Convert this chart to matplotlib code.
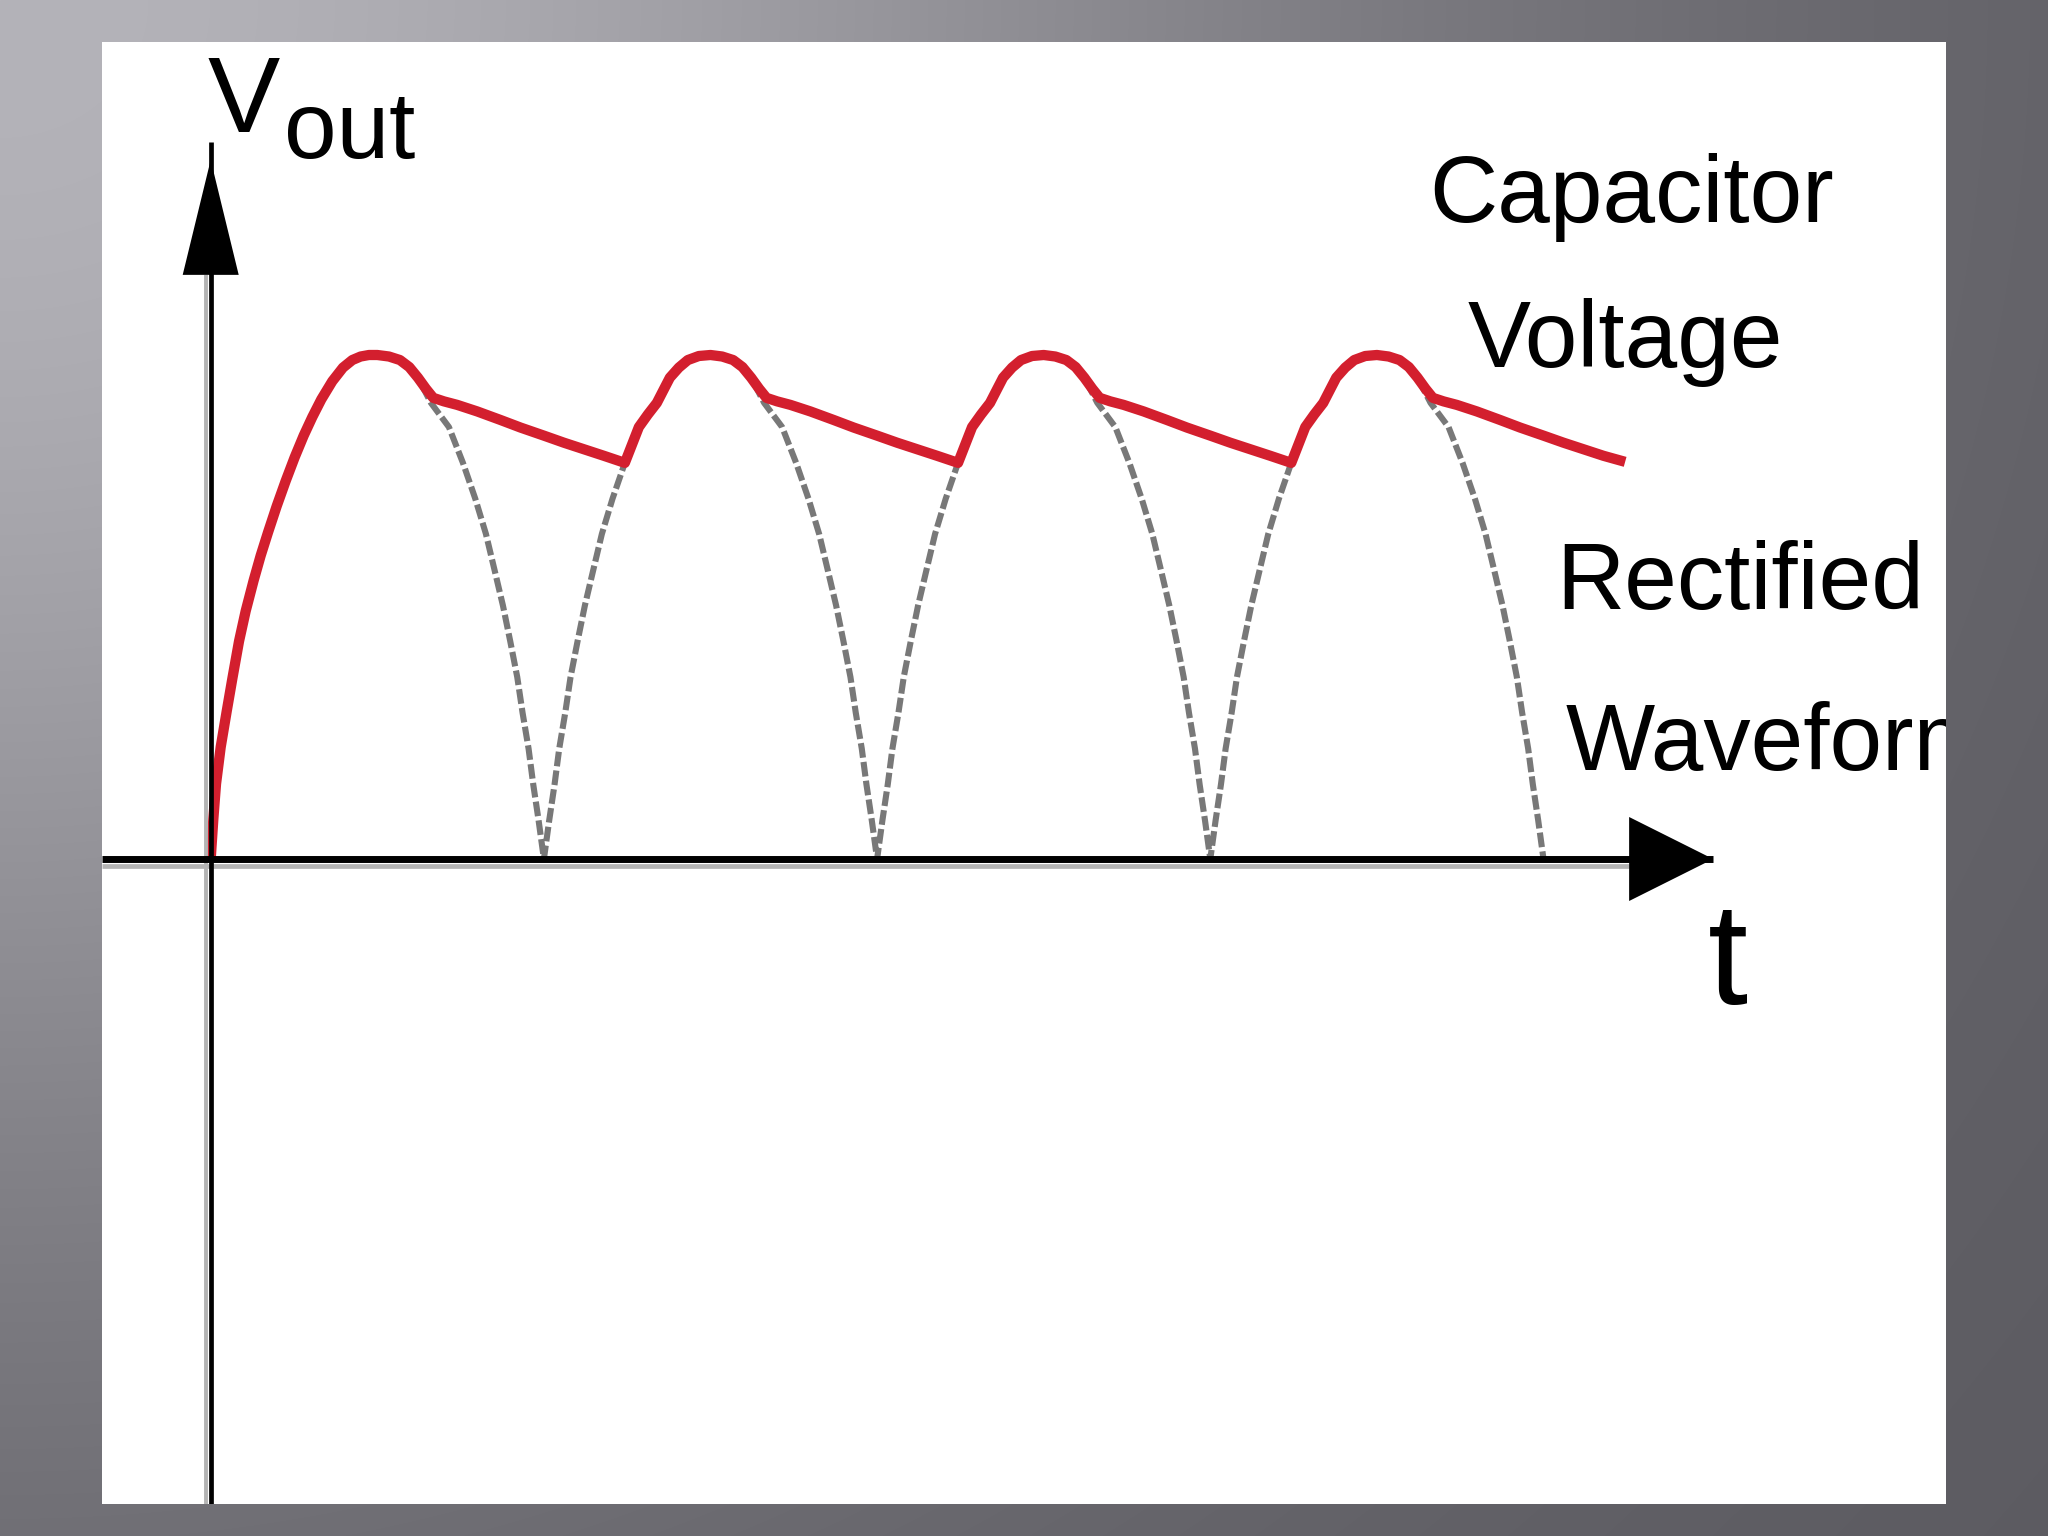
import numpy as np
import matplotlib
matplotlib.use("Agg")
import matplotlib.pyplot as plt
from matplotlib import font_manager

# ---------------- data ----------------
# time in half-periods of the mains wave, voltage as fraction of peak
rect_t = [0.500, 0.568, 0.622, 0.661, 0.715, 0.757, 0.794, 0.826, 0.852, 0.877, 0.899, 0.920, 0.936, 0.954, 0.968, 0.984, 1.000,
          1.016, 1.032, 1.046, 1.064, 1.080, 1.101, 1.123, 1.148, 1.174, 1.206, 1.243, 1.285, 1.339, 1.378, 1.432, 1.500,
          1.568, 1.622, 1.661, 1.715, 1.757, 1.794, 1.826, 1.852, 1.877, 1.899, 1.920, 1.936, 1.954, 1.968, 1.984, 2.000,
          2.016, 2.032, 2.046, 2.064, 2.080, 2.101, 2.123, 2.148, 2.174, 2.206, 2.243, 2.285, 2.339, 2.378, 2.432, 2.500,
          2.568, 2.622, 2.661, 2.715, 2.757, 2.794, 2.826, 2.852, 2.877, 2.899, 2.920, 2.936, 2.954, 2.968, 2.984, 3.000,
          3.016, 3.032, 3.046, 3.064, 3.080, 3.101, 3.123, 3.148, 3.174, 3.206, 3.243, 3.285, 3.339, 3.378, 3.432, 3.500,
          3.568, 3.622, 3.661, 3.715, 3.757, 3.794, 3.826, 3.852, 3.877, 3.899, 3.920, 3.936, 3.954, 3.968, 3.984, 4.000]
rect_v = [1.000, 0.990, 0.955, 0.905, 0.857, 0.786, 0.715, 0.645, 0.573, 0.503, 0.432, 0.361, 0.290, 0.219, 0.148, 0.077, 0.000,
          0.077, 0.148, 0.219, 0.290, 0.361, 0.432, 0.503, 0.573, 0.645, 0.715, 0.786, 0.857, 0.905, 0.955, 0.990, 1.000,
          0.990, 0.955, 0.905, 0.857, 0.786, 0.715, 0.645, 0.573, 0.503, 0.432, 0.361, 0.290, 0.219, 0.148, 0.077, 0.000,
          0.077, 0.148, 0.219, 0.290, 0.361, 0.432, 0.503, 0.573, 0.645, 0.715, 0.786, 0.857, 0.905, 0.955, 0.990, 1.000,
          0.990, 0.955, 0.905, 0.857, 0.786, 0.715, 0.645, 0.573, 0.503, 0.432, 0.361, 0.290, 0.219, 0.148, 0.077, 0.000,
          0.077, 0.148, 0.219, 0.290, 0.361, 0.432, 0.503, 0.573, 0.645, 0.715, 0.786, 0.857, 0.905, 0.955, 0.990, 1.000,
          0.990, 0.955, 0.905, 0.857, 0.786, 0.715, 0.645, 0.573, 0.503, 0.432, 0.361, 0.290, 0.219, 0.148, 0.077, 0.000]

cap_t = [0.000, 0.008, 0.016, 0.030, 0.048, 0.065, 0.085, 0.105, 0.129, 0.150, 0.172, 0.198, 0.225, 0.252,
         0.279, 0.305, 0.332, 0.365, 0.397, 0.425, 0.450, 0.475, 0.500, 0.535,
         0.568, 0.596, 0.622, 0.646, 0.668, 0.700, 0.740, 0.800, 0.870, 0.930, 1.000, 1.060, 1.120, 1.180, 1.243,
         1.285, 1.312, 1.339, 1.360, 1.378, 1.405, 1.432, 1.465, 1.500,
         1.535, 1.568, 1.596, 1.622, 1.646, 1.668, 1.700, 1.740, 1.800, 1.870, 1.930, 2.000, 2.060, 2.120, 2.180, 2.243,
         2.285, 2.312, 2.339, 2.360, 2.378, 2.405, 2.432, 2.465, 2.500,
         2.535, 2.568, 2.596, 2.622, 2.646, 2.668, 2.700, 2.740, 2.800, 2.870, 2.930, 3.000, 3.060, 3.120, 3.180, 3.243,
         3.285, 3.312, 3.339, 3.360, 3.378, 3.405, 3.432, 3.465, 3.500,
         3.535, 3.568, 3.596, 3.622, 3.646, 3.668, 3.700, 3.740, 3.800, 3.870, 3.930, 4.000, 4.060, 4.120, 4.180, 4.245]
cap_v = [0.000, 0.080, 0.149, 0.222, 0.293, 0.358, 0.432, 0.492, 0.553, 0.602, 0.648, 0.700, 0.750, 0.797,
         0.840, 0.877, 0.912, 0.948, 0.975, 0.990, 0.997, 1.000, 1.000, 0.997,
         0.990, 0.976, 0.955, 0.933, 0.915, 0.908, 0.901, 0.888, 0.871, 0.856, 0.840, 0.826, 0.813, 0.800, 0.786,
         0.857, 0.882, 0.905, 0.932, 0.955, 0.975, 0.990, 0.998, 1.000,
         0.997, 0.990, 0.976, 0.955, 0.933, 0.915, 0.908, 0.901, 0.888, 0.871, 0.856, 0.840, 0.826, 0.813, 0.800, 0.786,
         0.857, 0.882, 0.905, 0.932, 0.955, 0.975, 0.990, 0.998, 1.000,
         0.997, 0.990, 0.976, 0.955, 0.933, 0.915, 0.908, 0.901, 0.888, 0.871, 0.856, 0.840, 0.826, 0.813, 0.800, 0.786,
         0.857, 0.882, 0.905, 0.932, 0.955, 0.975, 0.990, 0.998, 1.000,
         0.997, 0.990, 0.976, 0.955, 0.933, 0.915, 0.908, 0.901, 0.888, 0.871, 0.856, 0.840, 0.826, 0.813, 0.800, 0.788]

label_vout = ("V", "out")
label_cap = ("Capacitor", "Voltage")
label_rect = ("Rectified", "Waveform")
label_t = "t"

# ---------------- figure ----------------
W, H = 2048, 1536
fig = plt.figure(figsize=(W / 100, H / 100), dpi=100)

# gradient slide background
yy, xx = np.mgrid[0:H, 0:W].astype(float)
r2 = (xx / 1400.0) ** 2 + (yy / 1300.0) ** 2
v = 90 + 90 * np.exp(-r2)
img = np.stack([v, v - 1, v + 5], axis=-1) / 255.0
img = np.clip(img, 0, 1)
bg = fig.add_axes([0, 0, 1, 1])
bg.imshow(img, extent=[0, 1, 0, 1], aspect="auto", interpolation="bilinear")
bg.set_xlim(0, 1); bg.set_ylim(0, 1)
bg.axis("off")

# white panel
px_l, px_r, px_t, px_b = 102, 1946, 42, 1504
ax = fig.add_axes([px_l / W, (H - px_b) / H, (px_r - px_l) / W, (px_b - px_t) / H])
ax.set_facecolor("white")
for s in ax.spines.values():
    s.set_visible(False)
ax.set_xticks([]); ax.set_yticks([])

x0_px, y0_px, sx, sy = 210.7, 859.0, 333.2, 504.0
ax.set_xlim((px_l - x0_px) / sx, (px_r - x0_px) / sx)
ax.set_ylim((y0_px - px_b) / sy, (y0_px - px_t) / sy)
xmin, xmax = ax.get_xlim()
ymin, ymax = ax.get_ylim()
dx = 1.0 / sx  # one pixel in data units (x)
dy = 1.0 / sy  # one pixel in data units (y)

# rectified waveform (gray dashed)
ax.plot(rect_t, rect_v, color="#787878", lw=4.4, dashes=(2.4, 0.7),
        dash_capstyle="butt", dash_joinstyle="round", zorder=2)
# capacitor voltage (red)
ax.plot(cap_t, cap_v, color="#d31f2e", lw=7.4, solid_capstyle="butt",
        solid_joinstyle="round", zorder=3)

# axes with soft shadows
x_tip, x_base, x_half = 4.509, 4.257, 42 * dy
y_tip, y_base, y_half = 1.387, 1.159, 28 * dx
y_top_line = 1.4226
ax.plot([xmin, x_base], [-7 * dy, -7 * dy], color="#b4b4b4", lw=3.4, zorder=4, solid_capstyle="butt")
ax.plot([xmin, x_tip], [0, 0], color="black", lw=5.0, zorder=5, solid_capstyle="butt")
ax.fill([x_base, x_tip, x_base], [x_half, 0, -x_half], color="black", lw=0, zorder=5)

ax.plot([-5 * dx, -5 * dx], [ymin, y_base], color="#b4b4b4", lw=2.8, zorder=4, solid_capstyle="butt")
ax.plot([0, 0], [ymin, y_top_line], color="black", lw=3.4, zorder=5, solid_capstyle="butt")
ax.fill([-y_half, 0, y_half], [y_base, y_tip, y_base], color="black", lw=0, zorder=5)

# ---------------- text ----------------
names = {f.name for f in font_manager.fontManager.ttflist}
if "Liberation Sans Narrow" in names:
    fam, fs, fs_v, fs_t = "Liberation Sans Narrow", 80, 84, 108
else:
    fam, fs, fs_v, fs_t = "Liberation Sans", 68, 78, 104

def txt(xp, yp, s, size=fs, ha="left"):
    ax.text((xp - x0_px) / sx, (y0_px - yp) / sy, s, fontsize=size, family=fam,
            ha=ha, va="baseline", color="black", clip_on=True, zorder=6)

txt(208, 132, label_vout[0], size=fs_v)
txt(284, 158, label_vout[1])
txt(1632, 222, label_cap[0], ha="center")
txt(1625, 367, label_cap[1], ha="center")
txt(1740, 609, label_rect[0], ha="center")
txt(1566, 770, label_rect[1])
txt(1708, 1004, label_t, size=fs_t)

fig.savefig("out.png", dpi=100)
